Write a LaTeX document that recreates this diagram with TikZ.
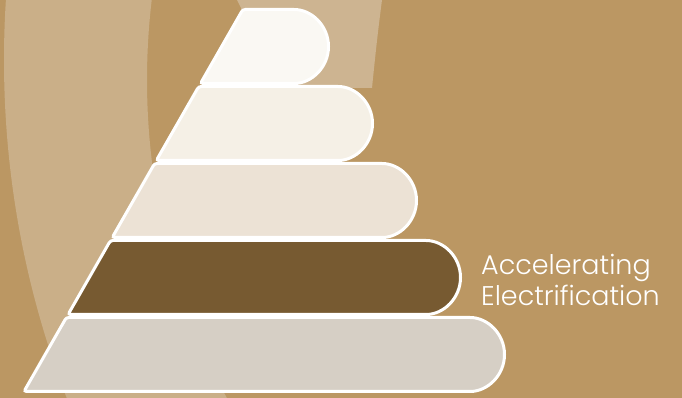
\documentclass[tikz,border=0pt]{standalone}
\usepackage{fontspec}
\newfontfamily\popl{Poppins Light}
\definecolor{bgtan}{HTML}{BB9763}
\definecolor{bandA}{HTML}{CAAF88}
\definecolor{bandB}{HTML}{CDB491}
\definecolor{LA}{HTML}{FAF8F3}
\definecolor{LB}{HTML}{F5F0E6}
\definecolor{LC}{HTML}{ECE2D5}
\definecolor{LD}{HTML}{775A31}
\definecolor{LE}{HTML}{D6CFC5}
\tikzset{
  layerbox/.style={draw=white, line width=3pt, rounded corners=2.5pt},
  txt/.style={text=white, inner sep=0pt, font=\popl\fontsize{27}{31}\selectfont}
}
\begin{document}
\begin{tikzpicture}[x=1pt,y=1pt]
\useasboundingbox (0,0) rectangle (682,398);
\fill[bgtan] (0,0) rectangle (682,398);
\begin{scope}
  \clip (0,0) rectangle (682,398);
  \fill[bandA, even odd rule] (942,338) circle[radius=938pt] (819,318) circle[radius=672pt];
  \fill[bandB] (237,398) -- (382,398) .. controls (378,368) and (375,340) .. (372,310) -- (241,310) -- (241,390) -- cycle;
\end{scope}
\foreach \k/\col in {4/LE,3/LD,2/LC,1/LB,0/LA} {
  \pgfmathsetmacro\tY{398-(8+77*\k+1.5)}
  \pgfmathsetmacro\bY{398-(85+77*\k-1.5)}
  \pgfmathsetmacro\xr{330+44*\k-1.5}
  \pgfmathsetmacro\rr{(\tY-\bY)/2}
  \pgfmathsetmacro\xlt{243.7-0.573*(398-\tY-8)}
  \pgfmathsetmacro\xlb{243.7-0.573*(398-\bY-8)}
  \pgfmathsetmacro\xs{\xr-\rr}
  \draw[layerbox, fill=\col] (\xlb,\bY) -- (\xlt,\tY) -- (\xs,\tY) arc[start angle=90, end angle=-90, radius=\rr pt] -- cycle;
}
\node[txt, anchor=base west] (acc) at (481,123) {Accelerating};
\node[txt, anchor=base west] (ele) at (481,92) {Electrification};
\end{tikzpicture}
\end{document}
